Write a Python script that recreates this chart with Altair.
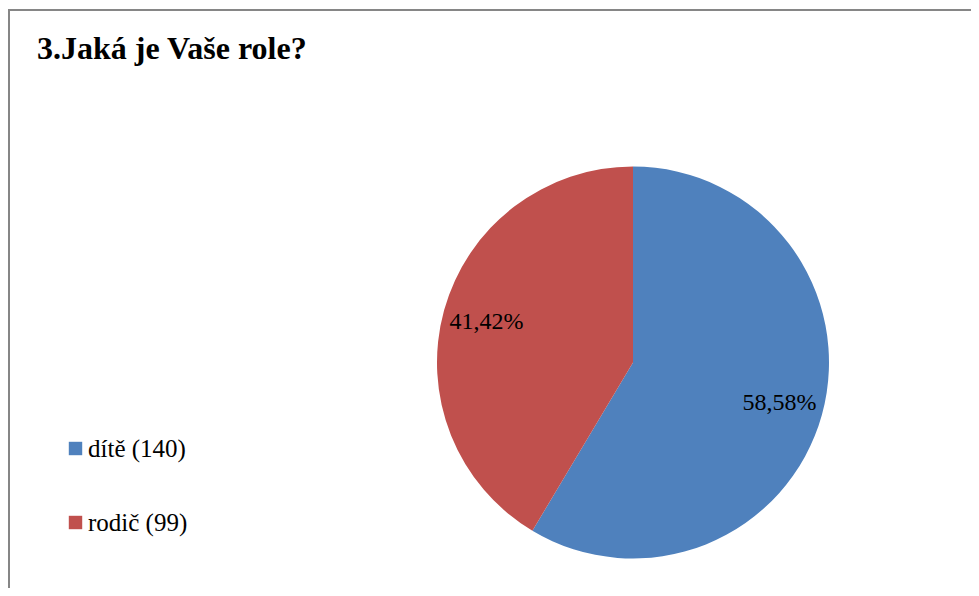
import altair as alt
import pandas as pd

title_text = "3.Jaká je Vaše role?"
roles = ["dítě", "rodič"]
counts = [140, 99]
colors = ["#4F81BD", "#C0504D"]

total = sum(counts)
legend_labels = [f"{r} ({c})" for r, c in zip(roles, counts)]
pct_labels = [f"{c / total * 100:.2f}%".replace(".", ",") for c in counts]

df = pd.DataFrame({
    "role": legend_labels,
    "count": counts,
    "pct": pct_labels,
    "idx": list(range(len(roles))),
})

SERIF = "Liberation Serif"
W, H = 963, 580
CX, CY = 625, 354.5

frame_left = alt.Chart(pd.DataFrame({"a": [0]})).mark_rule(
    stroke="#868686", strokeWidth=2
).encode(x=alt.value(1), y=alt.value(1), y2=alt.value(H + 20))

frame_top = alt.Chart(pd.DataFrame({"a": [0]})).mark_rule(
    stroke="#868686", strokeWidth=2
).encode(x=alt.value(0), x2=alt.value(W + 20), y=alt.value(2))

title = alt.Chart(pd.DataFrame({"t": [title_text]})).mark_text(
    font=SERIF, fontSize=32, fontWeight="bold", align="left",
    baseline="alphabetic", color="black"
).encode(text="t:N", x=alt.value(29), y=alt.value(51))

base = alt.Chart(df)

pie = base.mark_arc(radius=196, stroke=None).encode(
    theta=alt.Theta("count:Q", stack=True),
    order=alt.Order("idx:Q"),
    color=alt.Color(
        "role:N",
        sort=legend_labels,
        scale=alt.Scale(domain=legend_labels, range=colors),
        legend=alt.Legend(
            title=None, orient="none", legendX=55, legendY=428,
            symbolType="square", symbolSize=180, symbolStrokeWidth=0,
            labelFont=SERIF, labelFontSize=25, labelColor="black",
            labelOffset=0, rowPadding=48, labelLimit=400,
        ),
    ),
    x=alt.value(CX), y=alt.value(CY),
)

labels = base.mark_text(
    radius=152, font=SERIF, fontSize=24, color="black"
).encode(
    theta=alt.Theta("count:Q", stack=True),
    order=alt.Order("idx:Q"),
    detail="role:N",
    text="pct:N",
    x=alt.value(CX), y=alt.value(CY),
)

chart = alt.layer(frame_left, frame_top, title, pie, labels).properties(
    width=W, height=H, autosize=alt.AutoSizeParams(type="none"), padding=0,
    background="white"
).configure_view(stroke=None)

chart.save("out.html", embed_options={"renderer": "svg", "actions": False})
